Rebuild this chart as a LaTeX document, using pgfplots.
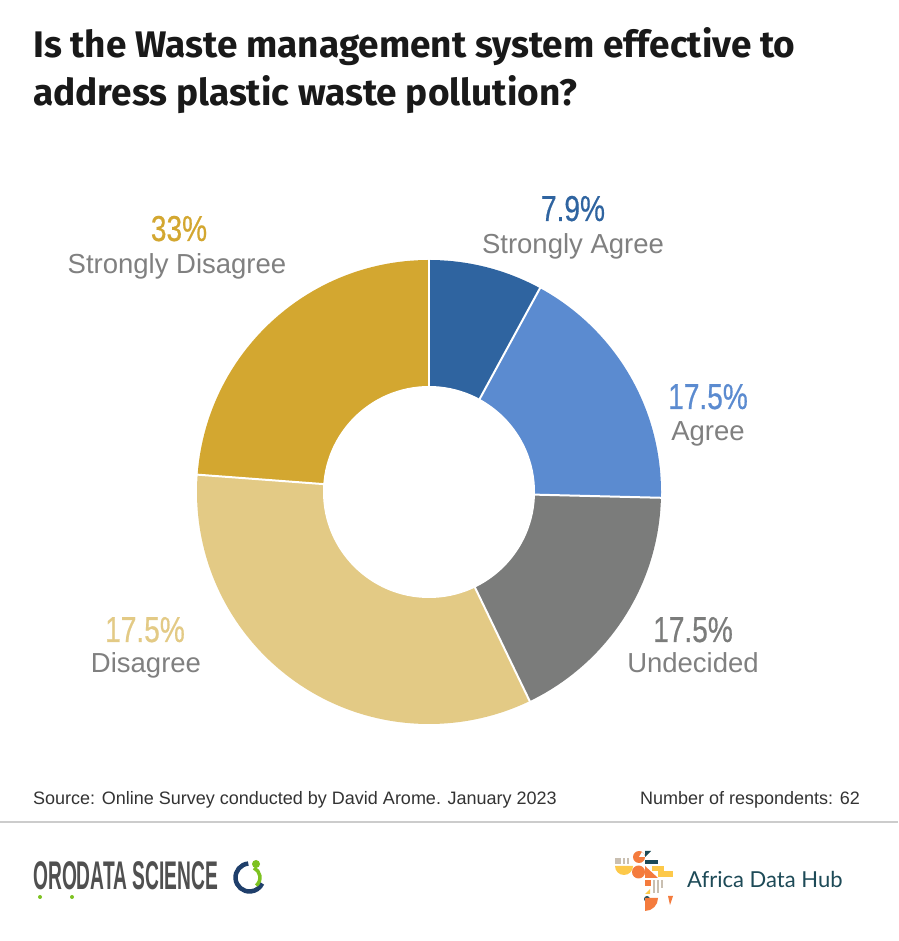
\documentclass[border=0pt]{standalone}
\usepackage{pgfplots}
\pgfplotsset{compat=1.18}
\usepackage{fontspec}
\setmainfont{Liberation Sans}
\newfontfamily\titlefont{Fira Sans}
\newfontfamily\numfont{Liberation Sans}[FakeStretch=0.78, FakeBold=0.5]
\newfontfamily\logofont{Liberation Sans}[FakeStretch=0.48]
\newfontfamily\adhfont{Lato}
\definecolor{sa}{HTML}{2F64A0}
\definecolor{ag}{HTML}{5B8BD0}
\definecolor{un}{HTML}{7B7C7B}
\definecolor{di}{HTML}{E3CA85}
\definecolor{sd}{HTML}{D3A730}
\definecolor{lbl}{HTML}{808080}
\definecolor{foot}{HTML}{333333}
\definecolor{rule}{HTML}{CCCCCC}
\definecolor{orogray}{HTML}{505050}
\definecolor{orogreen}{HTML}{7DC221}
\definecolor{oronavy}{HTML}{1F3F6B}
\definecolor{adhteal}{HTML}{1D4A57}
\definecolor{adhorange}{HTML}{F47B3D}
\definecolor{adhyellow}{HTML}{FDC94A}
\definecolor{adhbeige}{HTML}{C9BFB1}
% slice: colour, cumulative count at start, cumulative count at end (total 63)
\newcommand\slice[3]{%
  \begin{scope}
  \clip (axis cs:0,0)
    -- (axis cs:{400*cos(90-360*#2/63)},{400*sin(90-360*#2/63)})
    -- (axis cs:{400*cos(90-360*(2*#2+#3)/189)},{400*sin(90-360*(2*#2+#3)/189)})
    -- (axis cs:{400*cos(90-360*(#2+2*#3)/189)},{400*sin(90-360*(#2+2*#3)/189)})
    -- (axis cs:{400*cos(90-360*#3/63)},{400*sin(90-360*#3/63)}) -- cycle;
  \fill[#1] (axis cs:0,0) circle[radius=232];
  \end{scope}}
\newcommand\sep[1]{%
  \draw[white, line width=2pt] (axis cs:0,0)
    -- (axis cs:{236*cos(90-360*#1/63)},{236*sin(90-360*#1/63)});}
\begin{document}
\begin{tikzpicture}[x=1pt,y=1pt]
\useasboundingbox (0,0) rectangle (898,941);
\fill[white] (0,0) rectangle (898,941);
% title
\node[anchor=base west, inner sep=0, text=black!90] at (33,883)
  {\titlefont\bfseries\fontsize{37}{40}\selectfont Is the Waste management system effective to};
\node[anchor=base west, inner sep=0, text=black!90] at (33,835)
  {\titlefont\bfseries\fontsize{37}{40}\selectfont address plastic waste pollution?};
% donut
\begin{axis}[at={(189,209)}, anchor=south west, x=1pt, y=1pt,
  xmin=-240, xmax=240, ymin=-240, ymax=240, hide axis, clip=false]
  % counts: Strongly Agree 5, Agree 11, Undecided 11, Disagree 21, Strongly Disagree 15
  \slice{sa}{0}{5}
  \slice{ag}{5}{16}
  \slice{un}{16}{27}
  \slice{di}{27}{48}
  \slice{sd}{48}{63}
  \sep{0}\sep{5}\sep{16}\sep{27}\sep{48}
  \fill[white] (axis cs:0,0) circle[radius=106];
\end{axis}
% labels
\newcommand\num[3]{\node[anchor=base, inner sep=0, text=#1] at (#2) {\numfont\fontsize{36}{40}\selectfont #3};}
\newcommand\lab[2]{\node[anchor=base, inner sep=0, text=lbl] at (#1) {\fontsize{27.5}{30}\selectfont #2};}
\num{sa}{573,720}{7.9\%}
\lab{573,687}{Strongly Agree}
\num{sd}{179,700}{33\%}
\lab{177,667}{Strongly Disagree}
\num{ag}{708,532}{17.5\%}
\lab{708,500}{Agree}
\num{un}{693,299}{17.5\%}
\lab{693,268}{Undecided}
\num{di}{145,299}{17.5\%}
\lab{146,268}{Disagree}
% footer
\node[anchor=base west, inner sep=0, text=foot] at (33,136) {\fontsize{18}{20}\selectfont Source: Online Survey conducted by David Arome. January 2023};
\node[anchor=base east, inner sep=0, text=foot] at (860,136) {\fontsize{18}{20}\selectfont Number of respondents: 62};
\draw[rule, line width=2pt] (0,119) -- (898,119);
% Orodata logo
\node[anchor=base west, inner sep=0, text=orogray] at (33,51) {\logofont\bfseries\fontsize{40}{40}\selectfont ORODATA SCIENCE};
\fill[orogreen] (40,44) circle (2);
\fill[orogreen] (72,44) circle (2);
\draw[oronavy, line width=4.5] (249.5,63.5) ++(95:14) arc[start angle=95, end angle=335, radius=14];
\draw[orogreen, line width=3.5] (249.5,63.5) ++(-50:10.5) arc[start angle=-50, end angle=65, radius=10.5];
\fill[orogreen] (256,77) circle (4);
% Africa Data Hub logo
\fill[adhbeige] (615,77) rectangle (621,83);
\fill[adhbeige] (623,77) rectangle (625,83);
\fill[adhbeige] (627,77) rectangle (629,83);
\fill[adhorange] (639,84) circle (6);
\fill[white] (639,84) -- (645,84) arc[start angle=0, end angle=60, radius=6] -- cycle;
\fill[adhteal] (645,90) -- (651,90) -- (645,84) -- cycle;
\fill[adhteal] (645,77) rectangle (658,81);
\fill[adhyellow] (615,75) -- (633,75) arc[start angle=0, end angle=-180, radius=9] -- cycle;
\fill[adhorange] (638.5,69) circle (6.5);
\fill[adhorange] (645,75) -- (645,63) -- (658,63) -- cycle;
\fill[adhyellow] (652,70) rectangle (664,75);
\fill[adhyellow] (658,64) rectangle (673,70);
\fill[adhorange] (645,55) rectangle (651,61);
\fill[adhbeige] (653,48) rectangle (655,61);
\fill[adhbeige] (657,48) rectangle (659,61);
\fill[adhbeige] (661,53) rectangle (663,61);
\fill[adhyellow] (645,47) -- (650,52) -- (650,47) -- cycle;
\fill[adhteal] (647,42) circle (3);
\fill[adhorange] (645,43) -- (658,43) arc[start angle=0, end angle=-90, radius=13] -- cycle;
\fill[adhorange] (668,45) -- (673,45) -- (670,36) -- cycle;
\node[anchor=base west, inner sep=0, text=adhteal] at (687,53) {\adhfont\fontsize{22}{24}\selectfont Africa Data Hub};
\end{tikzpicture}
\end{document}
